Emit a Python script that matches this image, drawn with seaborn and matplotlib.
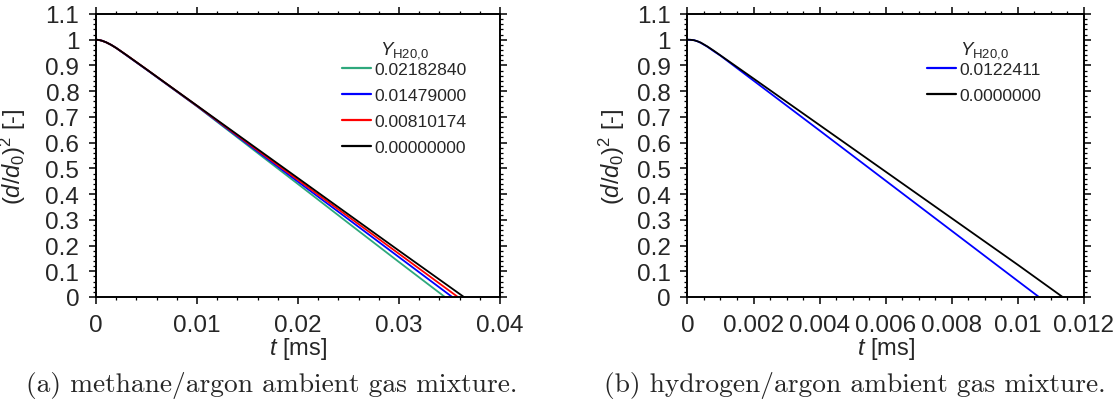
import numpy as np
import pandas as pd
import matplotlib
matplotlib.use("Agg")
import matplotlib.pyplot as plt
from matplotlib.ticker import MultipleLocator, FuncFormatter
import seaborn as sns

# ---------------- data ----------------
# Panel (a): methane/argon
t_a = [0.0, 0.0003, 0.0006, 0.001, 0.0015, 0.002, 0.003, 0.005, 0.01, 0.015, 0.02, 0.025, 0.03]
y_a_green = [1.0, 0.999, 0.996, 0.990, 0.980, 0.968, 0.940, 0.884, 0.741, 0.590, 0.439, 0.287, 0.136]
y_a_blue = [1.0, 0.999, 0.996, 0.990, 0.980, 0.968, 0.940, 0.884, 0.742, 0.595, 0.448, 0.302, 0.155]
y_a_red = [1.0, 0.999, 0.996, 0.990, 0.980, 0.968, 0.941, 0.885, 0.743, 0.599, 0.455, 0.312, 0.168]
y_a_black = [1.0, 0.999, 0.996, 0.990, 0.980, 0.968, 0.941, 0.885, 0.744, 0.603, 0.462, 0.321, 0.180]
t_end_a = [0.03455, 0.03527, 0.03583, 0.03643]
labels_a = ["0.02182840", "0.01479000", "0.00810174", "0.00000000"]
colors_a = ["#2ea87c", "#0000ff", "#ff0000", "#000000"]

# Panel (b): hydrogen/argon
t_b = [0.0, 0.0001, 0.0002, 0.0003, 0.0004, 0.0006, 0.0008, 0.001, 0.002, 0.004, 0.006, 0.008, 0.010]
y_b_blue = [1.0, 0.9995, 0.998, 0.994, 0.988, 0.973, 0.955, 0.938, 0.841, 0.647, 0.452, 0.257, 0.062]
y_b_black = [1.0, 0.9995, 0.998, 0.994, 0.989, 0.974, 0.957, 0.939, 0.849, 0.668, 0.487, 0.306, 0.125]
t_end_b = [0.010639, 0.011355]
labels_b = ["0.0122411", "0.0000000"]
colors_b = ["#0000ff", "#000000"]

yticks = [0, 0.1, 0.2, 0.3, 0.4, 0.5, 0.6, 0.7, 0.8, 0.9, 1.0, 1.1]

# ---------------- style ----------------
sns.set_style("ticks")
plt.rcParams["font.family"] = ["Liberation Sans", "DejaVu Sans"]
plt.rcParams["mathtext.fontset"] = "custom"
plt.rcParams["mathtext.rm"] = "Liberation Sans"
plt.rcParams["mathtext.it"] = "Liberation Sans:italic"
plt.rcParams["mathtext.bf"] = "Liberation Sans:bold"

fig = plt.figure(figsize=(11.2, 4.14), dpi=100)
axa = fig.add_axes([0.0857, 0.2802, 0.3607, 0.6836])
axb = fig.add_axes([0.6138, 0.2802, 0.3540, 0.6836])


def make_df(t, ys, ends, labels):
    rows = []
    for y, te, lab in zip(ys, ends, labels):
        for ti, yi in zip(list(t) + [te], list(y) + [0.0]):
            rows.append({"t": ti, "d2": yi, "Y": lab})
    return pd.DataFrame(rows)


df_a = make_df(t_a, [y_a_green, y_a_blue, y_a_red, y_a_black], t_end_a, labels_a)
df_b = make_df(t_b, [y_b_blue, y_b_black], t_end_b, labels_b)

for ax, df, labels, colors in [(axa, df_a, labels_a, colors_a), (axb, df_b, labels_b, colors_b)]:
    sns.lineplot(data=df, x="t", y="d2", hue="Y", hue_order=labels,
                 palette=dict(zip(labels, colors)), linewidth=1.3,
                 estimator=None, sort=False, ax=ax, legend=False)

fmt = FuncFormatter(lambda v, p: "%g" % round(v, 6))

for ax, xmax, xmaj, xmin in [(axa, 0.04, 0.01, 0.002), (axb, 0.012, 0.002, 0.0005)]:
    ax.set_xlim(0, xmax)
    ax.set_ylim(0, 1.1)
    ax.set_yticks(yticks)
    ax.xaxis.set_major_locator(MultipleLocator(xmaj))
    ax.xaxis.set_minor_locator(MultipleLocator(xmin))
    ax.yaxis.set_minor_locator(MultipleLocator(0.02))
    ax.xaxis.set_major_formatter(fmt)
    ax.yaxis.set_major_formatter(fmt)
    ax.tick_params(which="both", direction="out", top=True, right=True,
                   labeltop=False, labelright=False, color="black")
    ax.tick_params(which="major", length=5, width=1.1, labelsize=17.5, pad=7)
    ax.tick_params(which="minor", length=2.5, width=0.9)
    for s in ax.spines.values():
        s.set_linewidth(1.4)
        s.set_color("black")
    ax.set_xlabel(r"$t$ [ms]", fontsize=17)
    ax.set_ylabel(r"$(d/d_0)^2$ [-]", fontsize=17)

axa.xaxis.set_label_coords(0.5, -0.135)
axb.xaxis.set_label_coords(0.5, -0.135)
axa.yaxis.set_label_coords(-0.168, 0.5)
axb.yaxis.set_label_coords(-0.152, 0.5)

for ax, labels, colors, anchor in [(axa, labels_a, colors_a, (0.3054, 0.9034)),
                                   (axb, labels_b, colors_b, (0.8277, 0.9034))]:
    handles = [plt.Line2D([], [], color=c, lw=1.6) for c in colors]
    leg = ax.legend(handles, labels, title=r"$Y_{\mathrm{H20{,}0}}$", loc="upper left",
                    bbox_to_anchor=anchor, bbox_transform=fig.transFigure,
                    frameon=False, fontsize=12.6, title_fontsize=13.5,
                    handlelength=1.65, handletextpad=0.2, labelspacing=0.61,
                    borderpad=0, borderaxespad=0)
    leg._legend_box.sep = 1.3

fig.text(0.243, 0.068, "(a) methane/argon ambient gas mixture.", family="cmr10",
         fontsize=19.8, ha="center", va="center")
fig.text(0.763, 0.068, "(b) hydrogen/argon ambient gas mixture.", family="cmr10",
         fontsize=19.8, ha="center", va="center")

fig.savefig("out.png", dpi=100)
